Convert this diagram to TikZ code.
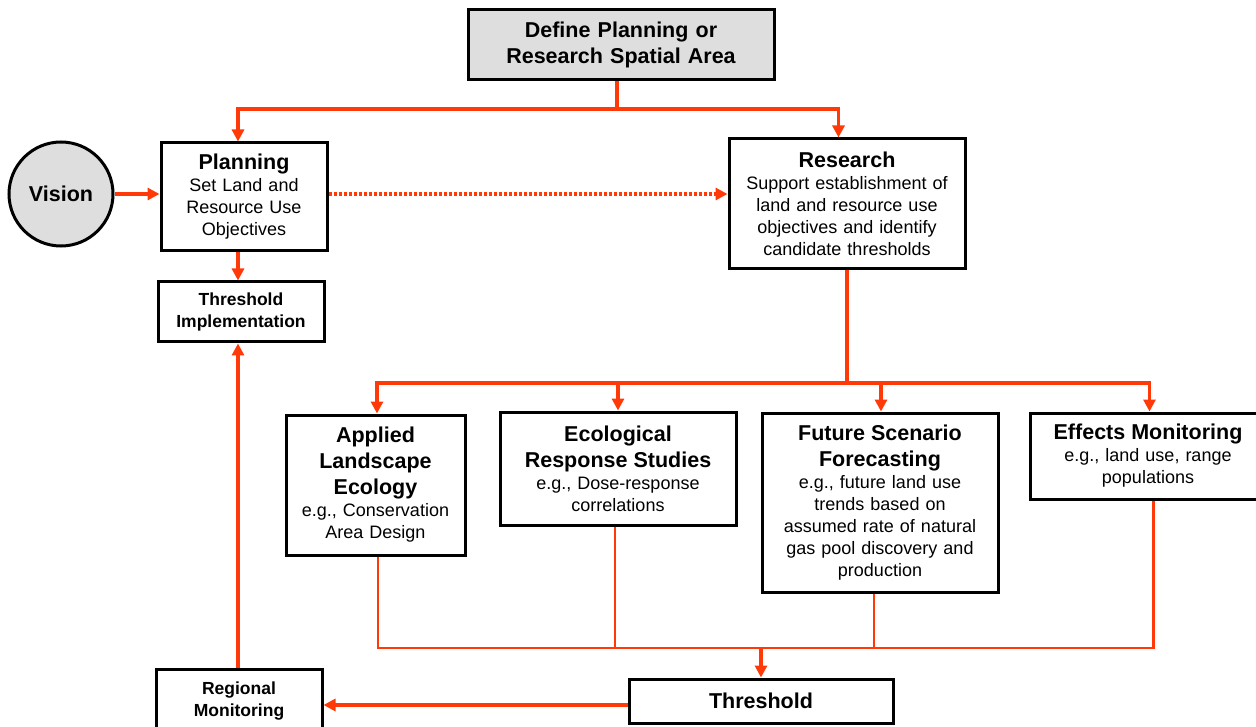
\documentclass[tikz,border=0pt]{standalone}
\usepackage{fontspec}
\setmainfont{Liberation Sans}
\usetikzlibrary{arrows.meta}
\definecolor{arrowred}{RGB}{255,58,8}
\definecolor{boxgray}{RGB}{222,222,222}
\newcommand\hdf{\fontsize{21.5}{26}\selectfont\bfseries}
\newcommand\bdf{\fontsize{18}{22}\selectfont}
\newcommand\smf{\fontsize{17.5}{22}\selectfont\bfseries}
\begin{document}
\begin{tikzpicture}[x=1pt,y=-1pt,
  box/.style={draw=black, line width=3pt, align=center, inner sep=0pt, font=\bdf},
  conn/.style={draw=arrowred, line width=3.2pt},
  thinconn/.style={draw=arrowred, line width=2.4pt},
  arr/.style={conn, -{Triangle[length=12pt,width=12pt]}},
  dotarr/.style={draw=arrowred, line width=3.2pt, dash pattern=on 3pt off 2pt, -{Triangle[length=12pt,width=12pt]}}]
\useasboundingbox (0,0) rectangle (1256,727);

% nodes
\node[box, fill=boxgray, minimum width=306pt, minimum height=70pt, text width=300pt, font=\hdf] (top) at (621,45) {Define Planning or\\Research Spatial Area};
\node[circle, draw=black, line width=3pt, fill=boxgray, minimum size=104pt, inner sep=0pt, font=\hdf] (vision) at (61,194) {Vision};
\node[box, minimum width=166pt, minimum height=108pt, text width=160pt] (plan) at (244,197) {{\hdf Planning\par}Set Land and\\Resource Use\\Objectives};
\node[box, minimum width=236pt, minimum height=130pt, text width=230pt] (res) at (847,204) {{\hdf Research\par}Support establishment of\\land and resource use\\objectives and identify\\candidate thresholds};
\node[box, minimum width=166pt, minimum height=60pt, text width=160pt, font=\smf] (ti) at (241,312) {Threshold\\Implementation};
\node[box, minimum width=166pt, minimum height=64pt, text width=160pt, font=\smf] (rm) at (239,701) {Regional\\Monitoring};
\node[box, minimum width=179pt, minimum height=140pt, text width=175pt] (ale) at (375.5,485) {{\hdf Applied\\Landscape\\Ecology\par}e.g., Conservation\\Area Design};
\node[box, minimum width=236pt, minimum height=113pt, text width=230pt] (ers) at (618,468.5) {{\hdf Ecological\\Response Studies\par}e.g., Dose-response\\correlations};
\node[box, minimum width=236pt, minimum height=179pt, text width=230pt] (fsf) at (880,502.5) {{\hdf Future Scenario\\Forecasting\par}e.g., future land use\\trends based on\\assumed rate of natural\\gas pool discovery and\\production};
\node[box, minimum width=236pt, minimum height=86pt, text width=230pt] (em) at (1148,456) {{\hdf Effects Monitoring\par}e.g., land use, range\\populations};
\node[box, minimum width=264pt, minimum height=44pt, text width=258pt, font=\hdf] (thr) at (761,701) {Threshold};

% junctions
\coordinate (tj) at (617,109);
\coordinate (rj) at (847,383);
\coordinate (bj) at (761,648);

% top distribution
\draw[conn] ([xshift=-4pt]top.south) -- (tj);
\draw[arr] (tj) -| ([xshift=-6pt]plan.north);
\draw[arr] (tj) -| ([xshift=-8.5pt]res.north);

% vision -> planning, planning -> research
\draw[arr] (vision.east) -- (vision.east -| plan.west);
\draw[dotarr] (vision.east -| plan.east) -- (vision.east -| res.west);

% planning -> threshold implementation
\draw[arr] ([xshift=-6pt]plan.south) -- ([xshift=-6pt]plan.south |- ti.north);
% regional monitoring -> threshold implementation
\draw[arr] ([xshift=-1pt]rm.north) -- ([xshift=-1pt]rm.north |- ti.south);

% research distribution
\draw[conn] (res.south) -- (rj);
\draw[arr] (rj) -| ([xshift=1.5pt]ale.north);
\draw[arr] (rj) -| (ers.north);
\draw[arr] (rj) -| ([xshift=1pt]fsf.north);
\draw[arr] (rj) -| ([xshift=1.5pt]em.north);

% collection to threshold
\draw[thinconn] ([xshift=2.5pt]ale.south) |- (bj);
\draw[thinconn] ([xshift=-3pt]ers.south) |- (bj);
\draw[thinconn] ([xshift=-6pt]fsf.south) |- (bj);
\draw[thinconn] ([xshift=5.5pt]em.south) |- (bj);
\draw[arr] (bj) -- (thr.north);

% threshold -> regional monitoring
\draw[arr] ([yshift=-4pt]thr.west) -- ([yshift=-4pt]thr.west -| rm.east);
\end{tikzpicture}
\end{document}
